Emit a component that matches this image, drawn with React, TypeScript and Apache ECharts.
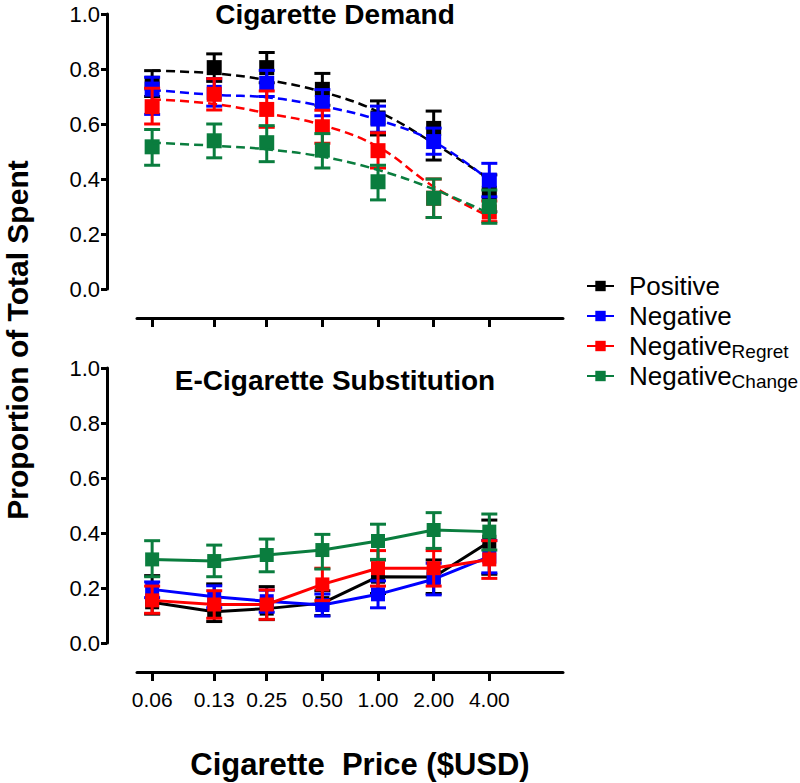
import React, { useEffect, useRef } from "react";
import * as echarts from "echarts";

const prices = [0.06, 0.13, 0.25, 0.5, 1, 2, 4];
const priceLabels = ["0.06", "0.13", "0.25", "0.50", "1.00", "2.00", "4.00"];

const seriesNames = ["Positive", "Negative", "NegativeRegret", "NegativeChange"];
const seriesColors = ["#000000", "#0000ff", "#ff0000", "#0a7d3e"];

// Cigarette Demand (top panel): means, error bar limits, fitted demand curves
const demandPositive = [0.748, 0.805, 0.805, 0.726, 0.622, 0.584, 0.348];
const demandPositiveLo = [0.70, 0.755, 0.75, 0.668, 0.56, 0.469, 0.281];
const demandPositiveHi = [0.794, 0.855, 0.86, 0.784, 0.684, 0.647, 0.415];
const demandNegative = [0.727, 0.715, 0.748, 0.678, 0.618, 0.536, 0.396];
const demandNegativeLo = [0.635, 0.665, 0.70, 0.63, 0.57, 0.49, 0.335];
const demandNegativeHi = [0.77, 0.765, 0.795, 0.725, 0.665, 0.585, 0.457];
const demandRegret = [0.663, 0.708, 0.653, 0.59, 0.503, 0.33, 0.28];
const demandRegretLo = [0.60, 0.651, 0.588, 0.53, 0.44, 0.26, 0.245];
const demandRegretHi = [0.73, 0.765, 0.72, 0.65, 0.568, 0.40, 0.32];
const demandChange = [0.517, 0.539, 0.532, 0.505, 0.39, 0.33, 0.30];
const demandChangeLo = [0.45, 0.477, 0.463, 0.44, 0.324, 0.26, 0.239];
const demandChangeHi = [0.58, 0.60, 0.594, 0.565, 0.45, 0.40, 0.36];

const fitPositive = [0.794, 0.784, 0.76, 0.717, 0.645, 0.53, 0.40];
const fitNegative = [0.724, 0.706, 0.697, 0.665, 0.615, 0.536, 0.395];
const fitRegret = [0.69, 0.673, 0.639, 0.596, 0.517, 0.372, 0.263];
const fitChange = [0.532, 0.521, 0.508, 0.481, 0.433, 0.363, 0.275];

// E-Cigarette Substitution (bottom panel)
const subPositive = [0.148, 0.114, 0.125, 0.145, 0.241, 0.24, 0.368];
const subPositiveLo = [0.105, 0.078, 0.085, 0.10, 0.18, 0.18, 0.25];
const subPositiveHi = [0.245, 0.215, 0.205, 0.19, 0.302, 0.302, 0.447];
const subNegative = [0.195, 0.168, 0.152, 0.138, 0.177, 0.232, 0.314];
const subNegativeLo = [0.165, 0.128, 0.112, 0.098, 0.128, 0.175, 0.255];
const subNegativeHi = [0.222, 0.208, 0.192, 0.178, 0.226, 0.29, 0.373];
const subRegret = [0.155, 0.14, 0.14, 0.213, 0.272, 0.272, 0.304];
const subRegretLo = [0.108, 0.09, 0.086, 0.154, 0.207, 0.207, 0.235];
const subRegretHi = [0.207, 0.19, 0.193, 0.272, 0.336, 0.336, 0.372];
const subChange = [0.304, 0.298, 0.32, 0.338, 0.371, 0.411, 0.405];
const subChangeLo = [0.241, 0.241, 0.259, 0.269, 0.304, 0.344, 0.338];
const subChangeHi = [0.372, 0.356, 0.378, 0.395, 0.432, 0.474, 0.469];

const FONT = "'Liberation Sans', Arial, Helvetica, sans-serif";

export default function App() {
  const ref = useRef<HTMLDivElement>(null);

  useEffect(() => {
    document.body.style.margin = "0";
    if (!ref.current) return;
    const chart = echarts.init(ref.current, undefined, { renderer: "svg" });

    const xs = prices.map((p) => Math.log2(p));
    const groups = [
      { d: demandPositive, dl: demandPositiveLo, dh: demandPositiveHi, f: fitPositive, s: subPositive, sl: subPositiveLo, sh: subPositiveHi },
      { d: demandNegative, dl: demandNegativeLo, dh: demandNegativeHi, f: fitNegative, s: subNegative, sl: subNegativeLo, sh: subNegativeHi },
      { d: demandRegret, dl: demandRegretLo, dh: demandRegretHi, f: fitRegret, s: subRegret, sl: subRegretLo, sh: subRegretHi },
      { d: demandChange, dl: demandChangeLo, dh: demandChangeHi, f: fitChange, s: subChange, sl: subChangeLo, sh: subChangeHi },
    ];

    const errRender = (color: string) => (params: any, api: any) => {
      const x = api.value(0);
      const lo = api.value(1);
      const hi = api.value(2);
      const pLo = api.coord([x, lo]);
      const pHi = api.coord([x, hi]);
      const hw = 8;
      const style = { stroke: color, lineWidth: 3 };
      return {
        type: "group",
        children: [
          { type: "line", shape: { x1: pHi[0], y1: pHi[1], x2: pLo[0], y2: pLo[1] }, style },
          { type: "line", shape: { x1: pHi[0] - hw, y1: pHi[1], x2: pHi[0] + hw, y2: pHi[1] }, style },
          { type: "line", shape: { x1: pLo[0] - hw, y1: pLo[1], x2: pLo[0] + hw, y2: pLo[1] }, style },
        ],
      };
    };

    const series: any[] = [];
    // bottom panel lines first (legend icons use them)
    groups.forEach((g, k) => {
      series.push({
        type: "line",
        name: seriesNames[k],
        xAxisIndex: 1,
        yAxisIndex: 1,
        data: xs.map((x, i) => [x, g.s[i]]),
        symbol: "rect",
        symbolSize: 14,
        itemStyle: { color: seriesColors[k] },
        lineStyle: { color: seriesColors[k], width: 3 },
        z: 11 + k * 2,
      });
    });
    groups.forEach((g, k) => {
      const color = seriesColors[k];
      series.push({
        type: "custom",
        name: seriesNames[k],
        xAxisIndex: 1,
        yAxisIndex: 1,
        data: xs.map((x, i) => [x, g.sl[i], g.sh[i]]),
        encode: { x: 0, y: [1, 2] },
        renderItem: errRender(color),
        z: 10 + k * 2,
      });
      series.push({
        type: "custom",
        name: seriesNames[k],
        xAxisIndex: 0,
        yAxisIndex: 0,
        data: xs.map((x, i) => [x, g.dl[i], g.dh[i]]),
        encode: { x: 0, y: [1, 2] },
        renderItem: errRender(color),
        z: 10 + k * 3,
      });
      series.push({
        type: "scatter",
        name: seriesNames[k],
        xAxisIndex: 0,
        yAxisIndex: 0,
        data: xs.map((x, i) => [x, g.d[i]]),
        symbol: "rect",
        symbolSize: 15,
        itemStyle: { color, opacity: 1 },
        z: 11 + k * 3,
      });
      series.push({
        type: "line",
        name: seriesNames[k],
        xAxisIndex: 0,
        yAxisIndex: 0,
        data: xs.map((x, i) => [x, g.f[i]]),
        smooth: 0.4,
        showSymbol: false,
        symbol: "none",
        lineStyle: { color, width: 2.5, type: [9, 5] },
        z: 12 + k * 3,
      });
    });

    const labelFor = (v: number) => {
      let best = 0;
      xs.forEach((x, i) => {
        if (Math.abs(x - v) < Math.abs(xs[best] - v)) best = i;
      });
      return priceLabels[best];
    };

    const axisLine = { show: true, onZero: false, lineStyle: { color: "#000", width: 3 } };
    const makeX = (gridIndex: number, showLabel: boolean) => ({
      type: "value",
      gridIndex,
      min: -4.331,
      max: 3.324,
      position: "bottom",
      offset: 29,
      axisLine,
      axisTick: { show: true, length: 9, inside: false, lineStyle: { color: "#000", width: 3 }, customValues: xs },
      axisLabel: {
        show: showLabel,
        customValues: xs,
        margin: 17,
        fontSize: 21,
        fontFamily: FONT,
        color: "#000",
        formatter: (v: number) => labelFor(v),
      },
      splitLine: { show: false },
    });
    const makeY = (gridIndex: number) => ({
      type: "value",
      gridIndex,
      min: 0,
      max: 1,
      interval: 0.2,
      position: "left",
      offset: 30,
      axisLine,
      axisTick: { show: true, length: 6, lineStyle: { color: "#000", width: 3 } },
      axisLabel: {
        margin: 7,
        fontSize: 22,
        fontFamily: FONT,
        color: "#000",
        formatter: (v: number) => v.toFixed(1),
      },
      splitLine: { show: false },
    });

    const legendText: Record<string, string> = {
      Positive: "Positive",
      Negative: "Negative",
      NegativeRegret: "Negative{sub|Regret}",
      NegativeChange: "Negative{sub|Change}",
    };

    chart.setOption({
      animation: false,
      backgroundColor: "#ffffff",
      grid: [
        { left: 137, top: 14, width: 426, height: 275 },
        { left: 137, top: 368, width: 426, height: 275 },
      ],
      xAxis: [makeX(0, false), makeX(1, true)],
      yAxis: [makeY(0), makeY(1)],
      legend: {
        orient: "vertical",
        left: 586,
        top: 271,
        padding: 0,
        itemGap: 0,
        itemWidth: 27,
        itemHeight: 13,
        data: seriesNames,
        formatter: (n: string) => legendText[n] || n,
        textStyle: {
          fontSize: 26,
          lineHeight: 30,
          fontFamily: FONT,
          color: "#000",
          padding: [0, 0, 0, 10],
          rich: {
            sub: { fontSize: 19, lineHeight: 10, verticalAlign: "bottom", fontFamily: FONT, color: "#000" },
          },
        },
      },
      graphic: [
        {
          type: "text",
          x: 335,
          y: 14,
          style: { text: "Cigarette Demand", fontSize: 28, fontWeight: "bold", fontFamily: FONT, fill: "#000", align: "center", verticalAlign: "middle" },
        },
        {
          type: "text",
          x: 335,
          y: 380,
          style: { text: "E-Cigarette Substitution", fontSize: 28, fontWeight: "bold", fontFamily: FONT, fill: "#000", align: "center", verticalAlign: "middle" },
        },
        {
          type: "text",
          x: 17,
          y: 340,
          rotation: Math.PI / 2,
          style: { text: "Proportion of Total Spent", fontSize: 30, fontWeight: "bold", fontFamily: FONT, fill: "#000", align: "center", verticalAlign: "middle" },
        },
        {
          type: "text",
          x: 360,
          y: 764,
          style: { text: "Cigarette  Price ($USD)", fontSize: 31, fontWeight: "bold", fontFamily: FONT, fill: "#000", align: "center", verticalAlign: "middle" },
        },
      ],
      series,
    });

    return () => chart.dispose();
  }, []);

  return <div ref={ref} style={{ width: 800, height: 783 }} />;
}
